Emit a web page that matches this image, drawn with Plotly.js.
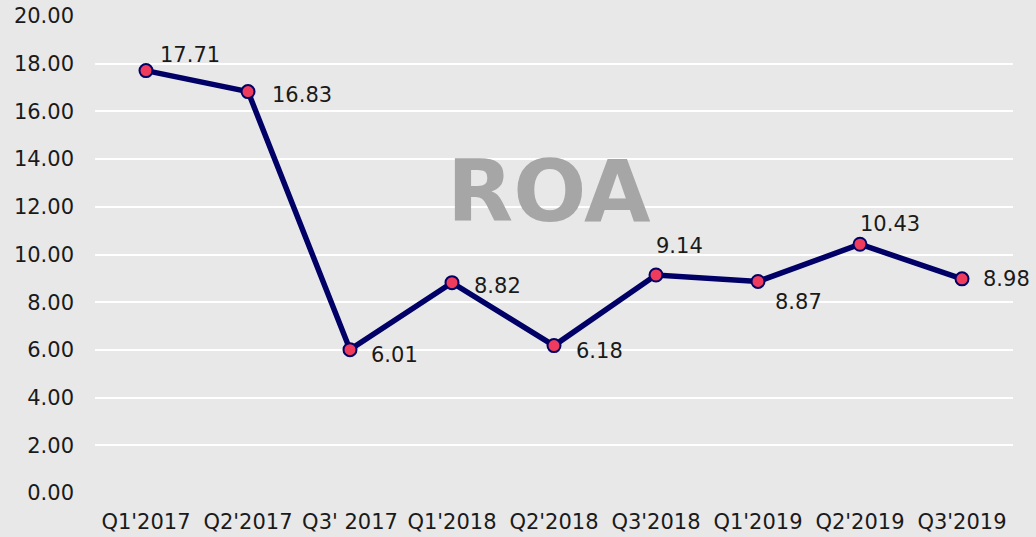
<!DOCTYPE html>
<html><head><meta charset="utf-8">
<script src="https://cdn.plot.ly/plotly-3.0.1.min.js"></script>
<style>html,body{margin:0;padding:0;background:#e8e8e8;}</style>
</head><body>
<div id="chart" style="width:1036px;height:537px;"></div>
<script>
const categories = ["Q1'2017","Q2'2017","Q3' 2017","Q1'2018","Q2'2018","Q3'2018","Q1'2019","Q2'2019","Q3'2019"];
const roaValues = [17.71, 16.83, 6.01, 8.82, 6.18, 9.14, 8.87, 10.43, 8.98];
const yTicks = [0,2,4,6,8,10,12,14,16,18,20];
// label offsets in pixels (style only)
const labelDx = [44, 54, 44, 45, 45, 23, 40, 30, 44];
const labelDy = [16, -3, -5, -3, -5, 29, -21, 20, 0];
const FONT = 'DejaVu Sans, sans-serif';

const trace = {
  x: categories, y: roaValues, type: 'scatter', mode: 'lines+markers',
  line: {color: '#000066', width: 5.5},
  marker: {color: '#f03c5c', size: 13, line: {color: '#000066', width: 2}},
  cliponaxis: false, hoverinfo: 'none'
};
const labelAnn = categories.map((c, i) => ({
  x: c, y: roaValues[i], xref: 'x', yref: 'y', text: roaValues[i].toFixed(2),
  showarrow: false, xanchor: 'center', yanchor: 'middle',
  xshift: labelDx[i], yshift: labelDy[i],
  font: {family: FONT, size: 21, color: '#1a1a1a'}
}));
const layout = {
  width: 1036, height: 537,
  paper_bgcolor: '#e8e8e8', plot_bgcolor: '#e8e8e8',
  margin: {l: 95, r: 23, t: 16, b: 44},
  showlegend: false,
  font: {family: FONT, size: 21, color: '#1a1a1a'},
  xaxis: {type: 'category', range: [-0.5, 8.5], showgrid: false, zeroline: false, showline: false,
          ticks: '', ticklabelstandoff: 14, tickfont: {family: FONT, size: 21, color: '#1a1a1a'}, fixedrange: true},
  yaxis: {range: [0, 20], tickvals: yTicks, ticktext: yTicks.map(v => v.toFixed(2)),
          showgrid: true, gridcolor: '#ffffff', gridwidth: 2, zeroline: false, showline: false,
          ticks: '', ticklabelstandoff: 20, tickfont: {family: FONT, size: 21, color: '#1a1a1a'}, fixedrange: true},
  annotations: [{text: '<b>ROA</b>', xref: 'paper', yref: 'paper', x: 0.495, y: 0.633,
                 showarrow: false, font: {family: FONT, size: 86, color: '#a6a6a6'}}].concat(labelAnn)
};
Plotly.newPlot('chart', [trace], layout, {displayModeBar: false, staticPlot: true});
</script>
</body></html>
